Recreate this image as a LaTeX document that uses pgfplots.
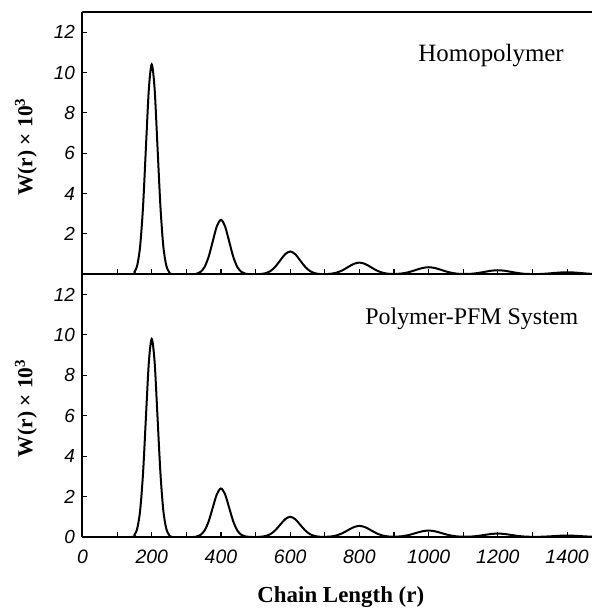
\documentclass[border=0pt]{standalone}
\usepackage{pgfplots}
\pgfplotsset{compat=1.18}
\usepackage{fontspec}
\setmainfont{Liberation Serif}
\newfontfamily\arialfont{Liberation Sans}

\begin{document}
\begin{tikzpicture}
\useasboundingbox (-82.5bp,-78bp) rectangle (509.5bp,537bp);
\pgfplotsset{
  panel/.style={
    scale only axis, width=509.5bp,
    xmin=0, xmax=1472, ymin=0, ymax=13,
    axis x line*=bottom, axis y line*=left,
    axis line style={line width=2bp, -},
    tick align=inside,
    xtick={0,200,...,1400}, minor xtick={100,300,...,1300},
    major tick length=5bp, minor tick length=5bp,
    every tick/.style={line width=1.1bp, black},
    /pgf/number format/assume math mode=true,
    /pgf/number format/1000 sep={},
    xticklabel style={font=\arialfont\itshape\fontsize{19.5}{19.5}\selectfont, yshift=-9bp},
    yticklabel style={font=\arialfont\itshape\fontsize{19}{19}\selectfont, xshift=-4bp},
    ylabel={W(r) × 10\textsuperscript{3}},
    ylabel style={font=\bfseries\fontsize{21.5}{21.5}\selectfont, anchor=center},
  }
}
% bottom panel
\begin{axis}[panel, at={(0,0)}, anchor=south west, height=262.7bp,
  ytick={0,2,...,12},
  ylabel style={at={(axis description cs:-0.111,0.49)}},
  xlabel={Chain Length (r)},
  xlabel style={at={(axis description cs:0.507,-0.251)}, anchor=base, font=\bfseries\fontsize{23}{23}\selectfont},
]
\addplot[black, line width=2bp, smooth, tension=0.5] coordinates {
(0,0) (140,0) (149.9,0.109) (158.3,0.430) (166.6,1.326) (175.0,3.182) (183.3,5.944) (191.7,8.649) (200,9.8) (208.4,8.649) (216.7,5.944) (225.1,3.182) (233.4,1.326) (241.8,0.430) (250.1,0.109) (260,0)
(320,0) (329.2,0.027) (341.0,0.105) (352.8,0.325) (364.6,0.779) (376.4,1.456) (388.2,2.118) (400,2.4) (411.8,2.118) (423.6,1.456) (435.4,0.779) (447.2,0.325) (459.0,0.105) (470.8,0.027) (490,0)
(505,0) (513.3,0.011) (527.8,0.044) (542.2,0.135) (556.6,0.325) (571.1,0.607) (585.6,0.883) (600,1.0) (614.5,0.883) (628.9,0.607) (643.4,0.325) (657.8,0.135) (672.3,0.044) (686.7,0.011)
(701.6,0.009) (716.5,0.024) (733.2,0.074) (749.9,0.179) (766.6,0.334) (783.3,0.485) (800,0.55) (816.7,0.485) (833.4,0.334) (850.1,0.179) (866.8,0.074) (883.5,0.026)
(895.2,0.016) (906.8,0.017) (925.4,0.043) (944.1,0.104) (962.7,0.194) (981.4,0.282) (1000,0.32) (1018.7,0.282) (1037.3,0.194) (1056.0,0.104) (1074.6,0.043) (1093.3,0.016)
(1105,0.014) (1124,0.023) (1143,0.055) (1162,0.103) (1181,0.150) (1200,0.17) (1219,0.150) (1238,0.103) (1257,0.055) (1276,0.023)
(1297.5,0.009) (1320,0.0095) (1340,0.023) (1360,0.042) (1380,0.062) (1400,0.07) (1420,0.062) (1440,0.042) (1460,0.023) (1480,0.0095) (1500,0.003)
};
\node[anchor=base, font=\fontsize{24}{24}\selectfont] at (axis description cs:0.764,0.807) {Polymer-PFM System};
\end{axis}
% top panel
\begin{axis}[panel, at={(0,262.7bp)}, anchor=south west, height=262.3bp,
  ytick={2,4,...,12}, xticklabels={},
  ylabel style={at={(axis description cs:-0.111,0.486)}},
]
\addplot[black, line width=2bp, smooth, tension=0.5] coordinates {
(0,0) (140,0) (149.9,0.115) (158.3,0.457) (166.6,1.407) (175.0,3.377) (183.3,6.308) (191.7,9.178) (200,10.4) (208.4,9.178) (216.7,6.308) (225.1,3.377) (233.4,1.407) (241.8,0.457) (250.1,0.115) (260,0)
(320,0) (329.2,0.030) (341.0,0.119) (352.8,0.365) (364.6,0.877) (376.4,1.638) (388.2,2.383) (400,2.7) (411.8,2.383) (423.6,1.638) (435.4,0.877) (447.2,0.365) (459.0,0.119) (470.8,0.030) (490,0)
(505,0) (513.3,0.013) (527.8,0.050) (542.2,0.153) (556.6,0.367) (571.1,0.685) (585.6,0.997) (600,1.13) (614.5,0.997) (628.9,0.685) (643.4,0.367) (657.8,0.153) (672.3,0.050) (686.7,0.013)
(701.6,0.010) (716.5,0.025) (733.2,0.078) (749.9,0.188) (766.6,0.352) (783.3,0.512) (800,0.58) (816.7,0.512) (833.4,0.352) (850.1,0.188) (866.8,0.078) (883.5,0.027)
(895.2,0.017) (906.8,0.019) (925.4,0.047) (944.1,0.114) (962.7,0.212) (981.4,0.309) (1000,0.35) (1018.7,0.309) (1037.3,0.212) (1056.0,0.114) (1074.6,0.047) (1093.3,0.018)
(1105,0.016) (1124,0.027) (1143,0.065) (1162,0.121) (1181,0.177) (1200,0.2) (1219,0.177) (1238,0.121) (1257,0.065) (1276,0.027)
(1297.5,0.012) (1320,0.014) (1340,0.032) (1360,0.061) (1380,0.088) (1400,0.1) (1420,0.088) (1440,0.061) (1460,0.032) (1480,0.014) (1500,0.004)
};
\draw[line width=2bp] (rel axis cs:0,1) -- (rel axis cs:1,1);
\node[anchor=base, font=\fontsize{25}{25}\selectfont] at (axis description cs:0.802,0.813) {Homopolymer};
\end{axis}
\end{tikzpicture}
\end{document}
